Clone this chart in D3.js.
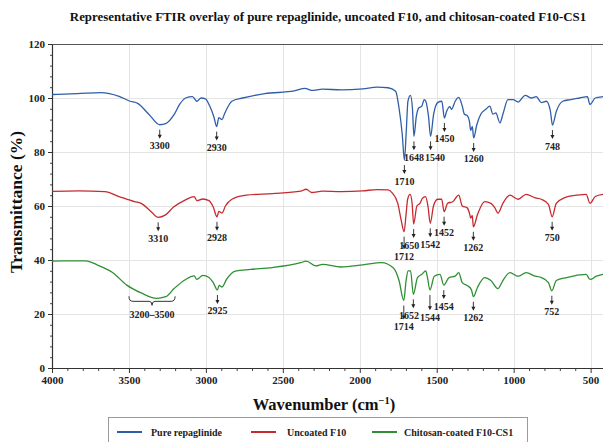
<!DOCTYPE html>
<html>
<head>
<meta charset="utf-8">
<script src="https://cdn.jsdelivr.net/npm/d3@7"></script>
<style>
  html, body { margin: 0; padding: 0; background: #fff; }
  svg { display: block; font-family: "Liberation Serif", "Times New Roman", serif; }
</style>
</head>
<body>
<svg id="chart" width="603" height="442"></svg>
<script>
// ---- chart text ----
const chartTitle = "Representative FTIR overlay of pure repaglinide, uncoated F10, and chitosan-coated F10-CS1";
const seriesNames = ["Pure repaglinide", "Uncoated F10", "Chitosan-coated F10-CS1"];
const xTickValues = [4000, 3500, 3000, 2500, 2000, 1500, 1000, 500];
const yTickValues = [0, 20, 40, 60, 80, 100, 120];

// ---- spectra: [wavenumber (cm^-1), transmittance (%)] ----
const pureRepaglinide = [
  [4000,101.3],[3836,101.6],[3679,102.0],[3564,100.6],[3493,98.8],[3443,98.0],[3371,94.0],[3300,90.1],
  [3261,90.5],[3205,94.0],[3171,97.6],[3132,100.0],[3087,100.5],[3059,98.8],[3031,100.0],[3003,99.7],
  [2975,97.0],[2947,92.8],[2930,89.4],[2916,92.7],[2895,92.0],[2880,94.0],[2831,98.8],[2760,100.0],
  [2618,101.6],[2426,102.6],[2355,103.6],[2313,102.8],[2242,103.3],[2122,103.0],[1980,103.4],[1887,104.0],
  [1816,103.8],[1767,102.5],[1745,96.3],[1724,86.5],[1710,77.0],[1698,87.6],[1687,98.8],[1671,101.0],
  [1658,96.3],[1648,85.8],[1633,93.0],[1617,96.3],[1597,97.0],[1581,99.4],[1571,98.8],[1553,93.0],
  [1540,85.8],[1520,94.0],[1494,98.3],[1467,98.8],[1450,92.6],[1436,95.0],[1415,96.8],[1404,95.8],
  [1380,98.8],[1357,100.2],[1334,97.0],[1320,94.0],[1302,93.5],[1288,91.5],[1279,88.0],[1269,89.5],
  [1260,85.2],[1240,90.0],[1214,94.0],[1181,95.8],[1155,97.0],[1135,94.0],[1116,94.5],[1089,90.8],
  [1070,94.0],[1037,99.4],[1004,99.4],[971,98.5],[925,101.0],[886,100.0],[853,100.5],[820,98.3],
  [787,98.8],[761,95.0],[748,90.0],[723,95.0],[681,98.8],[630,99.4],[571,100.0],[521,100.5],
  [504,97.6],[470,100.0],[420,100.5],[400,100.6]
];
const uncoatedF10 = [
  [4000,65.4],[3830,65.6],[3657,65.3],[3564,63.5],[3464,61.6],[3421,61.0],[3357,58.0],[3310,55.8],
  [3265,56.6],[3210,59.6],[3132,62.3],[3076,63.5],[3059,62.0],[3020,62.6],[2980,62.0],[2952,59.6],
  [2928,56.0],[2916,58.0],[2895,57.4],[2873,60.0],[2831,62.5],[2738,64.0],[2568,64.6],[2384,65.5],
  [2348,66.2],[2313,65.0],[2242,65.5],[2122,65.3],[1980,65.6],[1887,66.1],[1816,66.0],[1788,64.8],
  [1753,61.0],[1731,54.8],[1712,50.5],[1699,57.0],[1689,62.5],[1673,64.3],[1660,61.0],[1650,53.3],
  [1629,60.0],[1609,61.0],[1593,62.8],[1573,63.5],[1557,60.0],[1542,53.6],[1521,60.0],[1494,62.5],
  [1468,62.5],[1452,57.9],[1429,61.0],[1396,61.6],[1357,64.0],[1334,60.0],[1302,59.3],[1288,57.5],
  [1279,55.5],[1269,56.5],[1262,52.3],[1234,57.0],[1188,61.6],[1148,61.0],[1122,59.3],[1102,57.4],
  [1070,61.0],[1024,64.0],[971,62.5],[919,64.3],[860,63.0],[820,62.5],[774,60.6],[750,56.0],
  [723,61.0],[672,63.0],[588,64.0],[529,64.3],[504,61.0],[470,63.5],[420,64.3],[400,64.4]
];
const coatedF10CS1 = [
  [4000,39.6],[3779,39.7],[3707,38.2],[3607,35.4],[3514,30.7],[3421,27.8],[3321,25.8],[3261,26.4],
  [3205,29.5],[3132,32.8],[3076,34.1],[3059,32.8],[3020,34.3],[2980,33.5],[2952,31.6],[2925,28.9],
  [2914,30.6],[2895,30.0],[2866,32.8],[2809,35.9],[2710,36.5],[2568,37.2],[2384,39.0],[2348,39.6],
  [2285,37.8],[2242,38.4],[2122,37.4],[1980,38.2],[1859,39.0],[1781,37.0],[1745,32.4],[1714,25.0],
  [1699,32.4],[1686,36.0],[1670,36.0],[1652,27.3],[1625,33.5],[1597,34.7],[1571,36.0],[1560,33.5],
  [1544,28.9],[1516,34.0],[1479,34.7],[1454,30.7],[1420,33.5],[1380,34.0],[1357,35.3],[1334,31.6],
  [1297,30.4],[1274,28.9],[1262,26.4],[1234,30.0],[1188,33.5],[1148,32.4],[1102,29.4],[1070,32.4],
  [1024,35.3],[971,34.0],[919,35.3],[860,34.0],[820,33.5],[774,31.6],[752,28.6],[723,32.4],
  [655,33.5],[571,34.5],[529,34.7],[504,32.8],[462,34.0],[420,34.7],[400,34.8]
];

// ---- annotated band positions (cm^-1) ----
const pureRepaglinidePeaks = [3300, 2930, 1710, 1648, 1540, 1450, 1260, 748];
const uncoatedF10Peaks = [3310, 2928, 1712, 1650, 1542, 1452, 1262, 750];
const coatedF10CS1Peaks = [2925, 1714, 1652, 1544, 1454, 1262, 752];
const coatedBroadBand = [3500, 3200];
const coatedBroadBandLabel = "3200\u20133500";

const seriesColors = ["#2f5ea8", "#c62a2f", "#2f8f33"];

// ---- layout ----
const svg = d3.select("#chart");
const plot = { left: 52, right: 606, top: 44, bottom: 368 };

const x = d3.scaleLinear().domain([4000, 400]).range([plot.left, plot.right]);
const y = d3.scaleLinear().domain([0, 120]).range([plot.bottom, plot.top]);

svg.append("rect").attr("width", 603).attr("height", 442).attr("fill", "#fff");

// grid
const grid = svg.append("g").attr("stroke", "#e4e4e4").attr("stroke-width", 1);
grid.selectAll("line.vx").data(xTickValues.filter(d => d !== 4000)).join("line")
  .attr("x1", d => Math.round(x(d)) + 0.5).attr("x2", d => Math.round(x(d)) + 0.5)
  .attr("y1", plot.top).attr("y2", plot.bottom);
grid.selectAll("line.hy").data(yTickValues.filter(d => d !== 0 && d !== 120)).join("line")
  .attr("y1", d => Math.round(y(d)) + 0.5).attr("y2", d => Math.round(y(d)) + 0.5)
  .attr("x1", plot.left).attr("x2", plot.right);

// top frame line
svg.append("line")
  .attr("x1", plot.left).attr("x2", plot.right)
  .attr("y1", plot.top + 0.5).attr("y2", plot.top + 0.5)
  .attr("stroke", "#555").attr("stroke-width", 1);

// axes
const tickFont = g => g.selectAll("text")
  .attr("font-family", "Liberation Serif, Times New Roman, serif")
  .attr("font-weight", "bold").attr("font-size", 11).attr("fill", "#222");

const xMinor = d3.range(4000, 399, -100).filter(d => d % 500 !== 0);
svg.append("g").attr("transform", `translate(0,${plot.bottom})`)
  .call(d3.axisBottom(x).tickValues(xMinor).tickSize(3).tickSizeOuter(0).tickFormat(""))
  .call(g => g.select(".domain").remove())
  .call(g => g.selectAll("line").attr("stroke", "#444"));
svg.append("g").attr("transform", `translate(0,${plot.bottom})`)
  .call(d3.axisBottom(x).tickValues(xTickValues).tickSize(5).tickSizeOuter(0).tickFormat(d3.format("d")))
  .call(g => g.select(".domain").attr("stroke", "#333").attr("stroke-width", 1.2))
  .call(g => g.selectAll("line").attr("stroke", "#333"))
  .call(tickFont);

const yMinor = d3.range(0, 121, 4).filter(d => d % 20 !== 0);
svg.append("g").attr("transform", `translate(${plot.left},0)`)
  .call(d3.axisLeft(y).tickValues(yMinor).tickSize(2).tickSizeOuter(0).tickFormat(""))
  .call(g => g.select(".domain").remove())
  .call(g => g.selectAll("line").attr("stroke", "#444"));
svg.append("g").attr("transform", `translate(${plot.left},0)`)
  .call(d3.axisLeft(y).tickValues(yTickValues).tickSize(4).tickSizeOuter(0))
  .call(g => g.select(".domain").attr("stroke", "#333").attr("stroke-width", 1.2))
  .call(g => g.selectAll("line").attr("stroke", "#333"))
  .call(tickFont);

// axis titles
svg.append("text")
  .attr("transform", `translate(22,${(plot.top + plot.bottom) / 2 - 4}) rotate(-90)`)
  .attr("text-anchor", "middle").attr("font-weight", "bold").attr("font-size", 17.5).attr("fill", "#111")
  .text("Transmittance (%)");

const xTitle = svg.append("text")
  .attr("x", 324).attr("y", 410)
  .attr("text-anchor", "middle").attr("font-weight", "bold").attr("font-size", 16.5).attr("fill", "#111");
xTitle.append("tspan").text("Wavenumber (cm");
xTitle.append("tspan").attr("font-size", 10.5).attr("dy", -6.5).text("\u22121");
xTitle.append("tspan").attr("dy", 6.5).text(")");

// title
svg.append("text")
  .attr("x", 328).attr("y", 21)
  .attr("text-anchor", "middle").attr("font-weight", "bold").attr("font-size", 12.9).attr("fill", "#111")
  .text(chartTitle);

// spectra
svg.append("clipPath").attr("id", "plotClip")
  .append("rect").attr("x", plot.left).attr("y", plot.top - 5)
  .attr("width", plot.right - plot.left).attr("height", plot.bottom - plot.top + 5);

const line = d3.line()
  .x(d => x(d[0])).y(d => y(d[1]))
  .curve(d3.curveMonotoneX);

const spectra = [pureRepaglinide, uncoatedF10, coatedF10CS1];
svg.append("g").attr("clip-path", "url(#plotClip)")
  .selectAll("path").data(spectra).join("path")
  .attr("d", line)
  .attr("fill", "none")
  .attr("stroke", (d, i) => seriesColors[i])
  .attr("stroke-width", 1.3)
  .attr("stroke-linejoin", "round");

// peak annotations: arrow under each band minimum, wavenumber label below.
// Labels that would collide are nudged sideways a little, or dropped lower.
const peakSets = [
  [pureRepaglinide, pureRepaglinidePeaks],
  [uncoatedF10, uncoatedF10Peaks],
  [coatedF10CS1, coatedF10CS1Peaks]
];
const labelSize = 10;
const labelW = 20;                 // four bold digits
const asc = 0.89 * labelSize, desc = 0.22 * labelSize;
const ann = svg.append("g");

peakSets.forEach(([data, peaks]) => {
  const items = peaks.map(wn => {
    const v = data.find(d => d[0] === wn)[1];
    return { wn, px: x(wn), py: y(v), lx: x(wn), base: y(v) + 24.5 };
  });
  items.sort((a, b) => a.base - b.base || a.px - b.px);
  const placed = [];
  items.forEach(it => {
    let changed = true, guard = 0;
    while (changed && guard++ < 30) {
      changed = false;
      for (const b of placed) {
        const vOver = (it.base - asc) < (b.base + desc) - 0.01 && (b.base - asc) < (it.base + desc) - 0.01;
        const gap = Math.abs(it.lx - b.lx);
        if (vOver && gap < labelW + 1) {
          const dx = labelW + 1 - gap;
          if (dx <= 5) it.lx += (it.lx >= b.lx ? dx : -dx);
          else it.base = b.base + desc + asc;
          changed = true;
        }
      }
    }
    placed.push(it);
  });
  items.forEach(it => {
    const tip = it.base - 10.5;
    ann.append("line")
      .attr("x1", it.px).attr("x2", it.px).attr("y1", it.py + 5).attr("y2", tip - 3)
      .attr("stroke", "#222").attr("stroke-width", 0.9);
    ann.append("path")
      .attr("d", `M${it.px - 2},${tip - 4}L${it.px + 2},${tip - 4}L${it.px},${tip}Z`)
      .attr("fill", "#222");
    ann.append("text")
      .attr("x", it.lx).attr("y", it.base)
      .attr("text-anchor", "middle").attr("font-weight", "bold")
      .attr("font-size", labelSize).attr("fill", "#222")
      .text(it.wn);
  });
});

// broad O-H/N-H band bracket on the coated spectrum
{
  const x1 = x(coatedBroadBand[0]), x2 = x(coatedBroadBand[1]);
  const cx = (x1 + x2) / 2;
  const minVal = d3.min(coatedF10CS1.filter(d => d[0] <= coatedBroadBand[0] && d[0] >= coatedBroadBand[1]), d => d[1]);
  const by = y(minVal) + 3;
  ann.append("path")
    .attr("d", `M${x1},${by - 5}Q${x1},${by} ${x1 + 4},${by}L${cx - 3},${by}Q${cx},${by} ${cx},${by + 4}` +
               `Q${cx},${by} ${cx + 3},${by}L${x2 - 4},${by}Q${x2},${by} ${x2},${by - 5}`)
    .attr("fill", "none").attr("stroke", "#333").attr("stroke-width", 1);
  ann.append("text")
    .attr("x", cx).attr("y", by + 17)
    .attr("text-anchor", "middle").attr("font-weight", "bold")
    .attr("font-size", labelSize).attr("fill", "#222")
    .text(coatedBroadBandLabel);
}

// legend
const legend = svg.append("g");
legend.append("rect")
  .attr("x", 108.5).attr("y", 417.5).attr("width", 419).attr("height", 32)
  .attr("fill", "#fff").attr("stroke", "#9a9a9a").attr("stroke-width", 1);
const legendItems = [
  { x: 117, tx: 151 },
  { x: 251, tx: 287 },
  { x: 372, tx: 404 }
];
seriesNames.forEach((name, i) => {
  const it = legendItems[i];
  legend.append("line")
    .attr("x1", it.x).attr("x2", it.x + 25).attr("y1", 432).attr("y2", 432)
    .attr("stroke", seriesColors[i]).attr("stroke-width", 2);
  legend.append("text")
    .attr("x", it.tx).attr("y", 435.5)
    .attr("font-weight", "bold").attr("font-size", 10).attr("fill", "#222")
    .text(name);
});
</script>
</body>
</html>
